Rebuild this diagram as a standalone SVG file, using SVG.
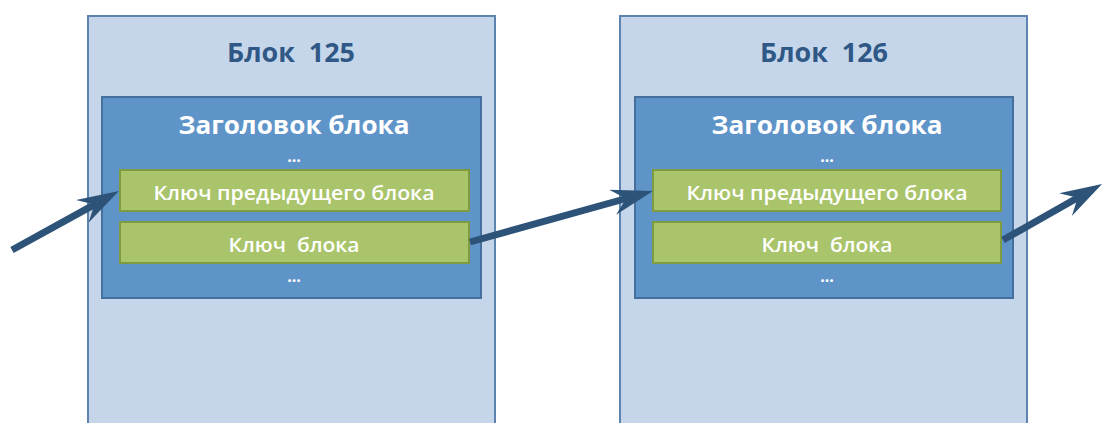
<svg xmlns="http://www.w3.org/2000/svg" width="1103" height="423" viewBox="0 0 1103 423">
<style>
.outer{fill:#C5D6EA;stroke:#5C84AE;stroke-width:2}
.inner{fill:#5F94C9;stroke:#456F9C;stroke-width:2}
.key{fill:#A9C46B;stroke:#7F9B40;stroke-width:2}
.title{font-family:"Open Sans","DejaVu Sans",sans-serif;font-weight:700;font-size:26px;fill:#2F5886;text-anchor:middle;white-space:pre}
.hdr{font-family:"Open Sans","DejaVu Sans",sans-serif;font-weight:700;font-size:25px;fill:#FFFFFF;text-anchor:middle}
.dots{font-family:"Open Sans","DejaVu Sans",sans-serif;font-weight:700;font-size:16px;fill:#FFFFFF;text-anchor:middle}
.kt{font-family:"Open Sans","DejaVu Sans",sans-serif;font-weight:600;font-size:19px;fill:#FFFFFF;text-anchor:middle;white-space:pre}
.arrow{stroke:#2D5378;stroke-width:7;fill:none;marker-end:url(#ah)}
</style>
<defs>
<marker id="ah" viewBox="0 0 42 26" refX="16" refY="13" markerWidth="42" markerHeight="26" markerUnits="userSpaceOnUse" orient="auto">
<path d="M0,0 L42,13 L0,26 L14,13 Z" fill="#2D5378"/>
</marker>
</defs>
<rect width="1103" height="423" fill="#FFFFFF"/>
<g id="block125">
<rect class="outer" x="88" y="16" width="407" height="420"/>
<text class="title" x="291" y="62" textLength="128" lengthAdjust="spacingAndGlyphs">Блок  125</text>
<rect class="inner" x="102" y="97" width="379" height="201"/>
<text class="hdr" x="294" y="134" textLength="231" lengthAdjust="spacingAndGlyphs">Заголовок блока</text>
<text class="dots" x="294" y="162">...</text>
<rect class="key" x="120" y="170" width="349" height="41"/>
<text class="kt" x="294" y="200" textLength="281" lengthAdjust="spacingAndGlyphs">Ключ предыдущего блока</text>
<rect class="key" x="120" y="222" width="349" height="41"/>
<text class="kt" x="294" y="252" textLength="131" lengthAdjust="spacingAndGlyphs">Ключ  блока</text>
<text class="dots" x="294" y="282">...</text>
</g>
<g id="block126">
<rect class="outer" x="620" y="16" width="407" height="420"/>
<text class="title" x="824" y="62" textLength="128" lengthAdjust="spacingAndGlyphs">Блок  126</text>
<rect class="inner" x="635" y="97" width="378" height="201"/>
<text class="hdr" x="827" y="134" textLength="231" lengthAdjust="spacingAndGlyphs">Заголовок блока</text>
<text class="dots" x="827" y="162">...</text>
<rect class="key" x="653" y="170" width="348" height="41"/>
<text class="kt" x="827" y="200" textLength="281" lengthAdjust="spacingAndGlyphs">Ключ предыдущего блока</text>
<rect class="key" x="653" y="222" width="348" height="41"/>
<text class="kt" x="827" y="252" textLength="131" lengthAdjust="spacingAndGlyphs">Ключ  блока</text>
<text class="dots" x="827" y="282">...</text>
</g>
<g id="connectors">
<line class="arrow" x1="12" y1="250" x2="96.2" y2="203.6"/>
<line class="arrow" x1="470" y1="242" x2="628" y2="198"/>
<line class="arrow" x1="1003" y1="240" x2="1079.4" y2="196.8"/>
</g>
</svg>
